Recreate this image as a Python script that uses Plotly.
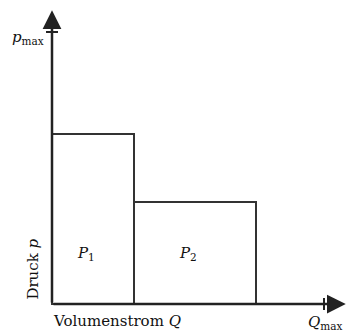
import plotly.graph_objects as go

# Power segments: flow interval [start, end] and pressure level (fractions of max)
segments = ["P₁", "P₂"]
q_start = [0.0, 0.30]
q_end = [0.30, 0.75]
pressure = [0.625, 0.375]

# Axis extents (arrow tips) and max ticks
q_tip = 1.08
p_tip = 1.08
q_max = 1.0
p_max = 1.0

FONT = "DejaVu Serif"
INK = "#222222"

widths = [e - s for s, e in zip(q_start, q_end)]
centers = [s + w / 2 for s, w in zip(q_start, widths)]

fig = go.Figure()
fig.add_trace(go.Bar(
    x=centers, y=pressure, width=widths,
    marker=dict(color="white", line=dict(color="#333333", width=2)),
    hoverinfo="skip", showlegend=False,
))

# axis arrows
for (x0, y0, x1, y1) in [(0, 0, q_tip, 0), (0, 0, 0, p_tip)]:
    fig.add_annotation(x=x1, y=y1, ax=x0, ay=y0, xref="x", yref="y",
                       axref="x", ayref="y", text="", showarrow=True,
                       arrowhead=2, arrowsize=1.5, arrowwidth=2.5,
                       arrowcolor=INK)

# max ticks
t = 0.022
fig.add_shape(type="line", x0=-t, x1=t, y0=p_max, y1=p_max,
              line=dict(color=INK, width=2))
fig.add_shape(type="line", x0=q_max, x1=q_max, y0=-t, y1=t,
              line=dict(color=INK, width=2))

txt = dict(family=FONT, size=15, color="#111111")
fig.add_annotation(x=-0.022, y=p_max - 0.02, xref="x", yref="y",
                   text="<i>p</i><sub>max</sub>", showarrow=False,
                   xanchor="right", yanchor="middle", font=txt)
fig.add_annotation(x=1.077, y=-0.068, xref="x", yref="y",
                   text="<i>Q</i><sub>max</sub>", showarrow=False,
                   xanchor="right", yanchor="middle", font=txt)
fig.add_annotation(x=-0.005, y=-0.0625, xref="x", yref="y",
                   text="Volumenstrom <i>Q</i>", showarrow=False,
                   xanchor="left", yanchor="middle", font=txt)
fig.add_annotation(x=-0.07, y=0.13, xref="x", yref="y",
                   text="Druck <i>p</i>", showarrow=False, textangle=-90,
                   xanchor="center", yanchor="middle", font=txt)

for name, c in zip(segments, centers):
    label = "<i>P</i><sub>" + name[-1].translate(str.maketrans("₁₂", "12")) + "</sub>"
    fig.add_annotation(x=c - 0.025, y=0.185, xref="x", yref="y",
                       text=label, showarrow=False, font=txt)

fig.update_layout(
    width=346, height=334,
    margin=dict(l=0, r=0, t=0, b=0),
    paper_bgcolor="white", plot_bgcolor="white",
    xaxis=dict(range=[-0.1912, 1.0809], visible=False, fixedrange=True),
    yaxis=dict(range=[-0.1103, 1.1176], visible=False, fixedrange=True),
    bargap=0,
)

fig.write_html("out.html")
